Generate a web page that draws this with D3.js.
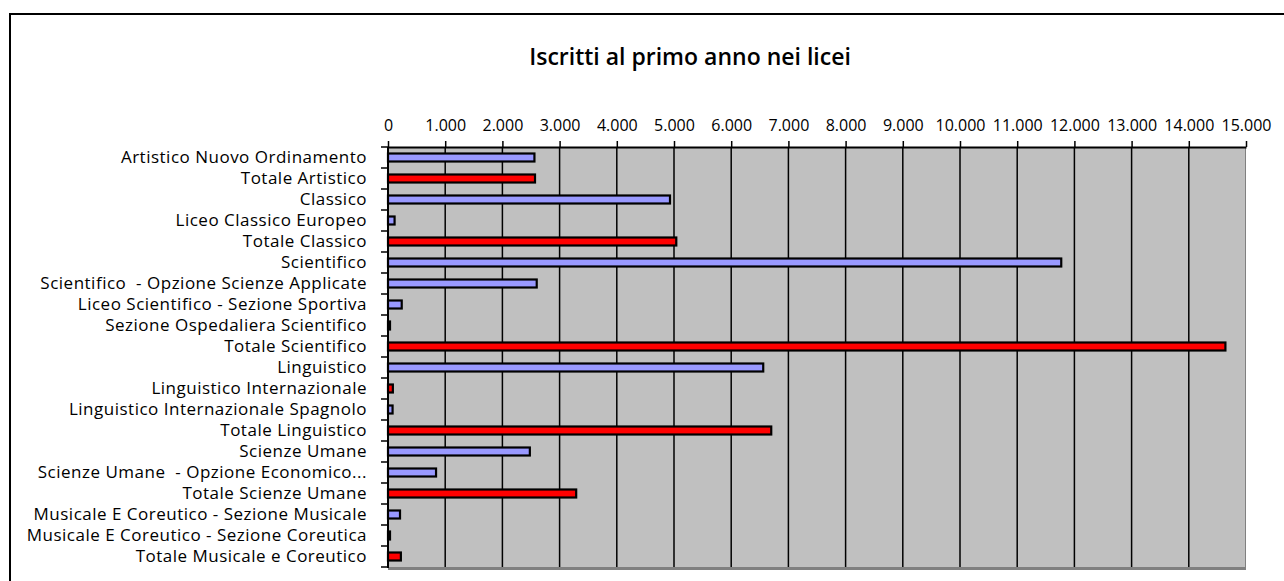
<!DOCTYPE html>
<html>
<head>
<meta charset="utf-8">
<script src="https://cdn.jsdelivr.net/npm/d3@7"></script>
<style>
  body { margin: 0; background: #fff; }
  text { font-family: "Open Sans", sans-serif; fill: #000; white-space: pre; }
</style>
</head>
<body>
<script>
// categorie (licei) e iscritti al primo anno
var categorie = [
  "Artistico Nuovo Ordinamento",
  "Totale Artistico",
  "Classico",
  "Liceo Classico Europeo",
  "Totale Classico",
  "Scientifico",
  "Scientifico  - Opzione Scienze Applicate",
  "Liceo Scientifico - Sezione Sportiva",
  "Sezione Ospedaliera Scientifico",
  "Totale Scientifico",
  "Linguistico",
  "Linguistico Internazionale",
  "Linguistico Internazionale Spagnolo",
  "Totale Linguistico",
  "Scienze Umane",
  "Scienze Umane  - Opzione Economico...",
  "Totale Scienze Umane",
  "Musicale E Coreutico - Sezione Musicale",
  "Musicale E Coreutico - Sezione Coreutica",
  "Totale Musicale e Coreutico"
];
var iscritti = [2560, 2570, 4930, 115, 5040, 11770, 2600, 240, 35, 14640,
                6560, 85, 80, 6700, 2480, 840, 3290, 210, 35, 225];
// righe evidenziate in rosso
var totali = [false, true, false, false, true, false, false, false, false, true,
              false, true, false, true, false, false, true, false, false, true];
var tickValori = d3.range(0, 15001, 1000);

var W = 1284, H = 581;
var pLeft = 388, pRight = 1246, pTop = 147, pBottom = 567;

var svg = d3.select("body").append("svg")
  .attr("width", W)
  .attr("height", H);

// bordo del grafico
svg.append("rect")
  .attr("x", 10).attr("y", 14)
  .attr("width", W).attr("height", H)
  .attr("fill", "none")
  .attr("stroke", "#000")
  .attr("stroke-width", 2);

svg.append("text")
  .text("Iscritti al primo anno nei licei")
  .attr("x", 690)
  .attr("y", 65)
  .attr("text-anchor", "middle")
  .style("font-size", "23px")
  .style("font-weight", "600");

var x = d3.scaleLinear().domain([0, 15000]).range([pLeft, pRight]);
var y = d3.scaleBand().domain(categorie).range([pTop, pBottom]).padding(0);

// area del grafico
svg.append("rect")
  .attr("x", pLeft).attr("y", pTop)
  .attr("width", pRight - pLeft).attr("height", pBottom - pTop)
  .attr("fill", "#c0c0c0");
svg.append("line")
  .attr("x1", pRight - 0.5).attr("x2", pRight - 0.5)
  .attr("y1", pTop).attr("y2", pBottom)
  .attr("stroke", "#808080");
svg.append("line")
  .attr("x1", pLeft).attr("x2", pRight)
  .attr("y1", pBottom + 1.5).attr("y2", pBottom + 1.5)
  .attr("stroke", "#808080")
  .attr("stroke-width", 3);

// griglia
svg.selectAll("line.grid")
  .data(tickValori.slice(1, -1))
  .enter().append("line")
  .attr("class", "grid")
  .attr("x1", function(d){ return x(d); })
  .attr("x2", function(d){ return x(d); })
  .attr("y1", pTop)
  .attr("y2", pBottom)
  .attr("stroke", "#000")
  .attr("stroke-width", 1.5);

var loc = d3.formatLocale({decimal: ",", thousands: ".", grouping: [3], currency: ["", "€"]});

var asseX = svg.append("g")
  .attr("transform", "translate(0," + pTop + ")")
  .call(d3.axisTop(x).tickValues(tickValori).tickFormat(loc.format(",d")).tickSizeInner(6).tickSizeOuter(0).tickPadding(10));
asseX.select(".domain").attr("stroke", "#000").attr("stroke-width", 2);
asseX.selectAll(".tick line").attr("stroke-width", 1.5);
asseX.selectAll("text").style("font-size", "16px");

// barre
svg.selectAll("rect.bar")
  .data(iscritti)
  .enter().append("rect")
  .attr("class", "bar")
  .attr("x", x(0))
  .attr("y", function(d, i){ return y(categorie[i]) + y.bandwidth() / 2 - 4; })
  .attr("width", function(d){ return x(d) - x(0); })
  .attr("height", 8)
  .attr("fill", function(d, i){ return totali[i] ? "#ff0000" : "#9999ff"; })
  .attr("stroke", "#000")
  .attr("stroke-width", 2.2);

// asse verticale
var asseY = svg.append("g")
  .attr("transform", "translate(" + pLeft + ",0)")
  .call(d3.axisLeft(y).tickSize(0).tickPadding(21));
asseY.select(".domain").remove();
asseY.selectAll("text")
  .style("font-size", "17px")
  .style("letter-spacing", "0.5px");

var confini = y.domain().map(function(c){ return y(c); }).concat([pBottom]);
svg.selectAll("line.ytick")
  .data(confini)
  .enter().append("line")
  .attr("class", "ytick")
  .attr("x1", pLeft - 7).attr("x2", pLeft)
  .attr("y1", function(d){ return d; })
  .attr("y2", function(d){ return d; })
  .attr("stroke", "#000")
  .attr("stroke-width", 1.5);
svg.append("line")
  .attr("x1", pLeft).attr("x2", pLeft)
  .attr("y1", pTop).attr("y2", pBottom + 1)
  .attr("stroke", "#000")
  .attr("stroke-width", 2);
</script>
</body>
</html>
